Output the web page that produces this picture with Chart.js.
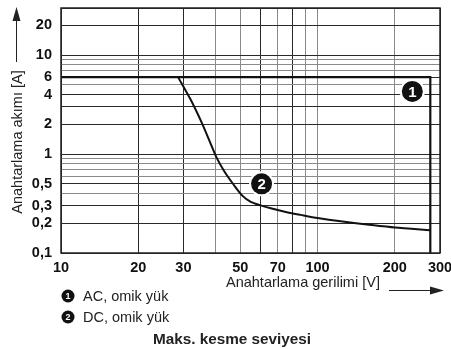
<!DOCTYPE html>
<html>
<head>
<meta charset="utf-8">
<script src="https://cdn.jsdelivr.net/npm/chart.js@4"></script>
<style>
  html, body { margin: 0; padding: 0; background: #fff; }
  #wrap { width: 451px; height: 349px; }
</style>
</head>
<body>
<div id="wrap"><canvas id="chart"></canvas></div>
<script>
// grille et graduations
const xGrid = [10, 20, 30, 40, 50, 60, 70, 80, 90, 100, 200, 300];
const xLabeled = [10, 20, 30, 50, 70, 100, 200, 300];
const yGrid = [0.1, 0.2, 0.3, 0.4, 0.5, 0.6, 0.7, 0.8, 0.9, 1, 2, 3, 4, 5, 6, 7, 8, 9, 10, 20, 30];
const yLabeled = [0.1, 0.2, 0.3, 0.5, 1, 2, 4, 6, 10, 20];
const yLabelTexts = ['0,1', '0,2', '0,3', '0,5', '1', '2', '4', '6', '10', '20'];

// courbe 1 : AC, charge ohmique
const acVolts = [10, 275, 275];
const acAmps = [6, 6, 0.1];

// courbe 2 : DC, charge ohmique
const dcVolts = [28.6, 32, 35.6, 38.3, 40.4, 43.4, 47.1, 51, 54.9, 60, 65.7, 75.2, 86, 100, 123, 162, 200, 275];
const dcAmps = [6, 3.56, 2.0, 1.275, 0.92, 0.663, 0.49, 0.378, 0.329, 0.303, 0.283, 0.26, 0.243, 0.226, 0.209, 0.192, 0.181, 0.17];

// repères numérotés dans le graphique
const markerNums = ['1', '2'];
const markerVolts = [234, 60.5];
const markerAmps = [4.3, 0.5];

const legendTexts = ['AC, omik yük', 'DC, omik yük'];
const xTitle = 'Anahtarlama gerilimi [V]';
const yTitle = 'Anahtarlama akımı [A]';
const caption = 'Maks. kesme seviyesi';

const FONT = '"Liberation Sans", Arial, Helvetica, sans-serif';
const lightX = [40, 50, 70, 90, 100, 200];
const lightY = [0.4, 0.6, 0.7, 0.8, 0.9, 5, 7, 8, 9];

function toPoints(xs, ys) {
  return xs.map((x, i) => ({ x: x, y: ys[i] }));
}

function drawBadge(ctx, x, y, r, txt, fontSize, halo) {
  if (halo) {
    ctx.beginPath();
    ctx.arc(x, y, r + halo, 0, Math.PI * 2);
    ctx.fillStyle = '#fff';
    ctx.fill();
  }
  ctx.beginPath();
  ctx.arc(x, y, r, 0, Math.PI * 2);
  ctx.fillStyle = '#111';
  ctx.fill();
  ctx.fillStyle = '#fff';
  ctx.font = 'bold ' + fontSize + 'px ' + FONT;
  ctx.textAlign = 'center';
  ctx.textBaseline = 'middle';
  ctx.fillText(txt, x, y + 1);
}

const extras = {
  id: 'extras',
  afterDraw(chart) {
    const ctx = chart.ctx;
    const a = chart.chartArea;
    const xs = chart.scales.x, ys = chart.scales.y;
    ctx.save();

    // cadre
    ctx.strokeStyle = '#222';
    ctx.lineWidth = 1.5;
    ctx.strokeRect(a.left, a.top, a.right - a.left, a.bottom - a.top);

    // repères 1 et 2
    markerNums.forEach((n, i) => {
      drawBadge(ctx, xs.getPixelForValue(markerVolts[i]), ys.getPixelForValue(markerAmps[i]), 10.5, n, 15, 2);
    });

    // titre axe X + flèche
    ctx.fillStyle = '#222';
    ctx.font = '14.5px ' + FONT;
    ctx.textAlign = 'left';
    ctx.textBaseline = 'middle';
    ctx.fillText(xTitle, 226, 283);
    ctx.strokeStyle = '#222';
    ctx.lineWidth = 1;
    ctx.beginPath();
    ctx.moveTo(389, 290.5);
    ctx.lineTo(432, 290.5);
    ctx.stroke();
    ctx.beginPath();
    ctx.moveTo(444, 290.5);
    ctx.lineTo(430, 286.5);
    ctx.lineTo(430, 294.5);
    ctx.closePath();
    ctx.fill();

    // titre axe Y + flèche
    ctx.save();
    ctx.translate(18, 142);
    ctx.rotate(-Math.PI / 2);
    ctx.textAlign = 'center';
    ctx.textBaseline = 'middle';
    ctx.fillText(yTitle, 0, 0);
    ctx.restore();
    ctx.beginPath();
    ctx.moveTo(16.5, 62);
    ctx.lineTo(16.5, 18);
    ctx.stroke();
    ctx.beginPath();
    ctx.moveTo(16.5, 7);
    ctx.lineTo(12.5, 21);
    ctx.lineTo(20.5, 21);
    ctx.closePath();
    ctx.fill();

    // légende
    legendTexts.forEach((t, i) => {
      const y = 296 + i * 21;
      drawBadge(ctx, 68, y, 6.5, markerNums[i], 9, 0);
      ctx.fillStyle = '#222';
      ctx.font = '14.5px ' + FONT;
      ctx.textAlign = 'left';
      ctx.textBaseline = 'middle';
      ctx.fillText(t, 83, y + 0.5);
    });

    // légende du graphique
    ctx.font = 'bold 15.3px ' + FONT;
    ctx.textAlign = 'center';
    ctx.fillText(caption, 232, 340);
    ctx.restore();
  }
};

new Chart(document.getElementById('chart').getContext('2d'), {
  type: 'scatter',
  data: {
    datasets: [{
      label: legendTexts[0],
      data: toPoints(acVolts, acAmps),
      showLine: true,
      borderColor: '#111',
      borderWidth: 2.2,
      pointRadius: 0,
      tension: 0
    }, {
      label: legendTexts[1],
      data: toPoints(dcVolts, dcAmps),
      showLine: true,
      borderColor: '#111',
      borderWidth: 2,
      pointRadius: 0,
      tension: 0.25
    }]
  },
  options: {
    responsive: true,
    maintainAspectRatio: false,
    animation: false,
    layout: { padding: { top: 8, right: 11, left: 0, bottom: 0 } },
    plugins: {
      legend: { display: false },
      tooltip: { enabled: false }
    },
    scales: {
      x: {
        type: 'logarithmic',
        min: 10,
        max: 300,
        afterBuildTicks: s => { s.ticks = xGrid.map(v => ({ value: v })); },
        afterFit: s => { s.height = 96; s.paddingLeft = 0; s.paddingRight = 0; },
        grid: {
          drawTicks: false,
          color: c => lightX.includes(c.tick && c.tick.value) ? '#8a8a8a' : '#2a2a2a',
          lineWidth: 1
        },
        border: { display: false },
        ticks: {
          autoSkip: false,
          maxRotation: 0,
          padding: 6,
          color: '#111',
          font: { family: FONT, size: 14.5, weight: 'bold' },
          callback: v => xLabeled.includes(v) ? String(v) : ''
        }
      },
      y: {
        type: 'logarithmic',
        min: 0.1,
        max: 30,
        afterBuildTicks: s => { s.ticks = yGrid.map(v => ({ value: v })); },
        afterFit: s => { s.width = 61; s.paddingTop = 0; s.paddingBottom = 0; },
        grid: {
          drawTicks: false,
          color: c => lightY.includes(c.tick && c.tick.value) ? '#8a8a8a' : '#2a2a2a',
          lineWidth: 1
        },
        border: { display: false },
        ticks: {
          autoSkip: false,
          padding: 9,
          color: '#111',
          font: { family: FONT, size: 14.5, weight: 'bold' },
          callback: v => {
            const i = yLabeled.findIndex(l => Math.abs(l - v) < 1e-9);
            return i >= 0 ? yLabelTexts[i] : '';
          }
        }
      }
    }
  },
  plugins: [extras]
});
</script>
</body>
</html>
